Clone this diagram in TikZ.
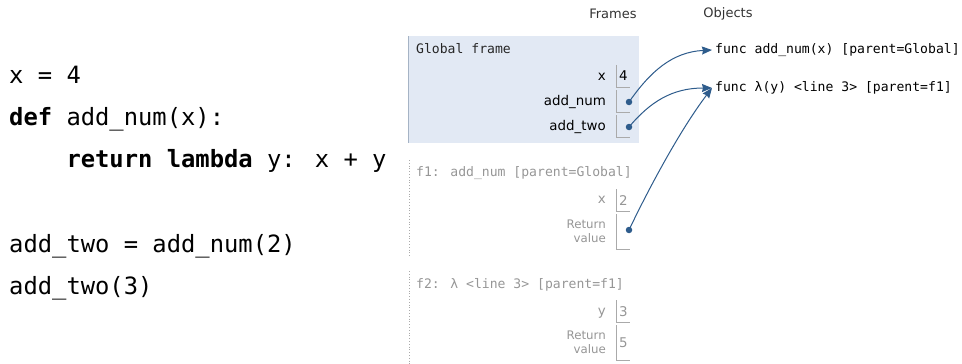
\documentclass[tikz,border=0pt]{standalone}
\usepackage{fontspec}
\setmainfont{DejaVu Sans}
\newfontfamily\codefont{DejaVu Sans Mono}
\usetikzlibrary{arrows.meta}
\definecolor{framefill}{RGB}{226,233,244}
\definecolor{frameborder}{RGB}{165,179,197}
\definecolor{arrowc}{RGB}{46,92,140}
\definecolor{boxgray}{RGB}{170,170,170}
\definecolor{dimtext}{RGB}{150,150,150}
\tikzset{
  code/.style={anchor=west, inner sep=0pt, font=\codefont\fontsize{23.8}{28}\selectfont, text height=17pt, text depth=6pt},
  hdr/.style={anchor=west, inner sep=0pt, font=\codefont\fontsize{13.1}{15}\selectfont, text height=10pt, text depth=3pt},
  captxt/.style={inner sep=0pt, font=\fontsize{13}{15}\selectfont, text=black!80},
  varlbl/.style={anchor=east, inner sep=0pt, font=\fontsize{13.4}{15}\selectfont, text height=10pt, text depth=3pt},
  retlbl/.style={anchor=east, inner sep=0pt, align=right, font=\fontsize{11.8}{15}\selectfont, text=dimtext},
  valbox/.style={inner sep=0pt, minimum width=13pt, minimum height=22pt, font=\fontsize{13.4}{15}\selectfont},
  retbox/.style={valbox, minimum height=35pt},
  boxline/.style={draw=boxgray, line width=0.8pt},
  dotn/.style={circle, fill=arrowc, inner sep=0pt, minimum size=6.5pt},
  objtext/.style={anchor=west, inner xsep=3pt, inner ysep=0pt, font=\codefont\fontsize{13.1}{15}\selectfont, text height=10pt, text depth=3pt},
  ptr/.style={draw=arrowc, line width=1pt, -{Stealth[length=10pt,width=8pt,inset=1pt]}},
}
\begin{document}
\begin{tikzpicture}[x=1pt,y=-1pt]
\useasboundingbox (0,0) rectangle (962,364);
% code
\node[code] (c1) at (9,78) {x = 4};
\node[code] (c2) at (9,120) {\textbf{def} add\_num(x):};
\node[code] (c3) at (9,162) {\phantom{xxxx}\textbf{return} \textbf{lambda} y: x + y};
\node[code] (c4) at (9,247) {add\_two = add\_num(2)};
\node[code] (c5) at (9,289) {add\_two(3)};
% captions
\node[captxt] (capf) at (613,14) {Frames};
\node[captxt] (capo) at (728,14) {Objects};
% global frame
\fill[framefill] (408,36) rectangle (639,143);
\draw[frameborder, line width=0.8pt] (408.4,36) -- (408.4,143);
\node[hdr, text=black!85] (gf) at (416,50) {Global frame};
\node[varlbl] (lx) at (606,77) {x};
\node[valbox] (vx) at (623.5,76) {4};
\node[varlbl] (lnum) at (606,102) {add\_num};
\node[valbox] (vnum) at (623.5,101) {};
\node[varlbl] (ltwo) at (606,127) {add\_two};
\node[valbox] (vtwo) at (623.5,126) {};
\foreach \b in {vx,vnum,vtwo} \draw[boxline] (\b.north west) -- (\b.south west) -- (\b.south east);
\node[dotn] (dnum) at (629,102) {};
\node[dotn] (dtwo) at (629,127) {};
% f1
\draw[boxgray, line width=0.8pt, dotted] (409,160) -- (409,256);
\node[hdr, text=dimtext] (f1h) at (416,173) {f1: add\_num [parent=Global]};
\node[varlbl, text=dimtext] (f1x) at (606,200) {x};
\node[valbox, text=dimtext] (f1vx) at (623.5,200.5) {2};
\node[retlbl] (f1r) at (606,231.5) {Return\\[-0.5pt]value};
\node[retbox] (f1vr) at (623.5,231.5) {};
\foreach \b in {f1vx,f1vr} \draw[boxline] (\b.north west) -- (\b.south west) -- (\b.south east);
\node[dotn] (dret) at (629,230) {};
% f2
\draw[boxgray, line width=0.8pt, dotted] (409,271) -- (409,364);
\node[hdr, text=dimtext] (f2h) at (416,285) {f2: λ <line 3> [parent=f1]};
\node[varlbl, text=dimtext] (f2y) at (606,312) {y};
\node[valbox, text=dimtext] (f2vy) at (623.5,311.5) {3};
\node[retlbl] (f2r) at (606,342.5) {Return\\[-0.5pt]value};
\node[retbox, text=dimtext] (f2vr) at (623.5,342.5) {5};
\foreach \b in {f2vy,f2vr} \draw[boxline] (\b.north west) -- (\b.south west) -- (\b.south east);
% objects
\node[objtext] (oadd) at (712,50) {func add\_num(x) [parent=Global]};
\node[objtext] (olam) at (712,88) {func λ(y) <line 3> [parent=f1]};
% pointers
\draw[ptr] (dnum.center) .. controls (650,72) and (672,52) .. (oadd.west);
\draw[ptr] (dtwo.center) .. controls (650,102) and (672,88) .. (olam.west);
\draw[ptr] (dret.center) .. controls (648,190) and (680,130) .. (olam.west);
\end{tikzpicture}
\end{document}
